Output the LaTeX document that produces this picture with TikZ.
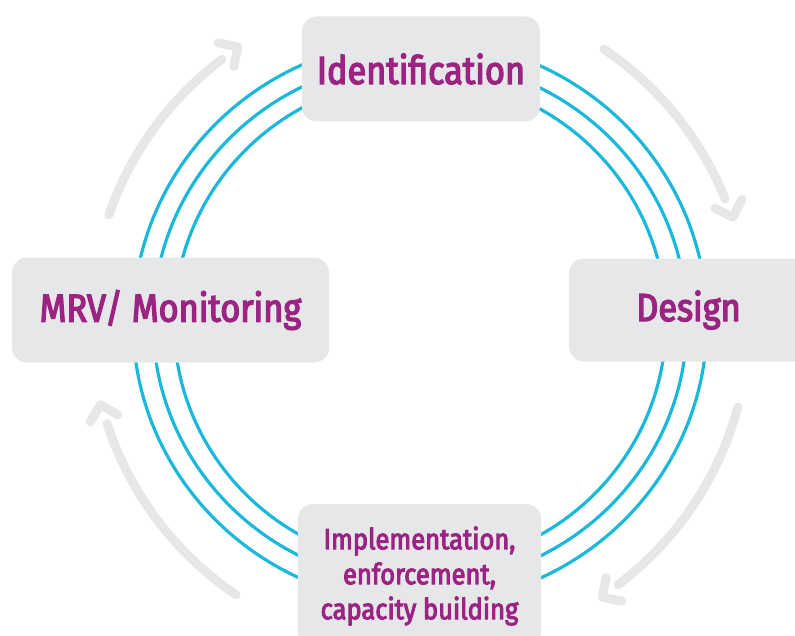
\documentclass[tikz,border=0pt]{standalone}
\usepackage{fontspec}
\setmainfont{Fira Sans}
\newfontfamily\stagefont{Fira Sans}[FakeStretch=0.88, FakeBold=3.5]
\usepackage{xcolor}
\usetikzlibrary{positioning}

\definecolor{ringcyan}{RGB}{28,184,218}
\definecolor{boxgrey}{RGB}{230,231,232}
\definecolor{stagepurple}{RGB}{155,36,130}

\begin{document}
\begin{tikzpicture}[
  x=1pt, y=1pt,
  ring/.style={draw=ringcyan, line width=3.2pt},
  cyclearrow/.style={draw=boxgrey, line width=9pt, line cap=round, line join=round},
  stage/.style={fill=boxgrey, rounded corners=15pt, inner sep=0pt, align=center,
    text=stagepurple, font=\stagefont\fontsize{39}{44}\selectfont},
]
  \clip (-420,-313) rectangle (375,322);

  % Concentric rings
  \draw[ring] (0,0) ellipse[x radius=287, y radius=282];
  \draw[ring] (0,0) ellipse[x radius=267, y radius=262];
  \draw[ring] (0,0) ellipse[x radius=246, y radius=244];

  % Grey cycle arrows
  \foreach \s/\e in {56/22, -15/-53, 236/198, 161/127} {
    \pgfmathsetmacro\t{\e-3.5}
    \pgfmathsetmacro\ta{\t+45}
    \pgfmathsetmacro\tb{\t+135}
    \draw[cyclearrow] (\s:329) arc[start angle=\s, end angle=\e, radius=329];
    \draw[cyclearrow] ([shift={(\ta:20)}]\t:330) -- (\t:330)
      -- ([shift={(\tb:20)}]\t:330);
  }

  % Stages
  \node[stage, minimum width=238pt, minimum height=105pt] (ident) at (1,253)
    {Identification};
  \node[stage, minimum width=239pt, minimum height=103pt] (design) at (268.5,12)
    {Design};
  \node[stage, minimum width=243pt, minimum height=144pt,
    font=\stagefont\fontsize{29}{35}\selectfont] (impl) at (-0.5,-254)
    {Implementation,\\enforcement,\\capacity building};
  \node[stage, minimum width=317pt, minimum height=105pt] (mrv) at (-249.5,12)
    {MRV/ Monitoring};

\end{tikzpicture}
\end{document}
